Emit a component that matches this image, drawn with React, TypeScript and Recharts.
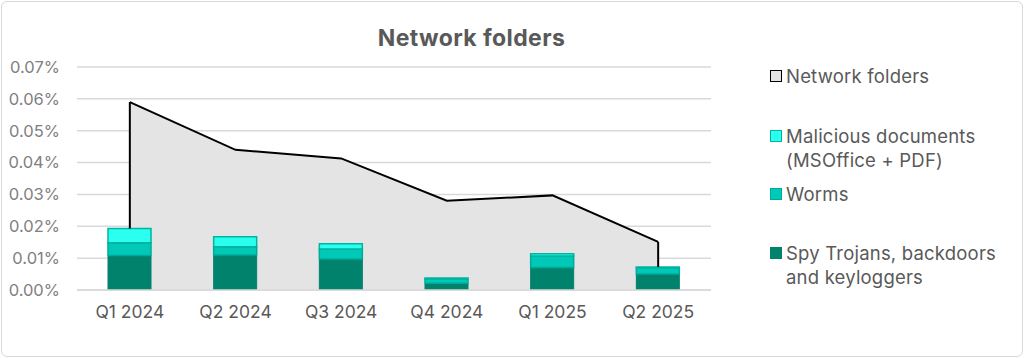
import { ComposedChart, Area, Bar, XAxis, YAxis, CartesianGrid, ReferenceLine } from 'recharts';

const quarters = ['Q1 2024', 'Q2 2024', 'Q3 2024', 'Q4 2024', 'Q1 2025', 'Q2 2025'];
const networkFolders = [0.059, 0.044, 0.0413, 0.028, 0.0297, 0.0151];
const spyTrojans = [0.0108, 0.011, 0.0097, 0.0021, 0.0071, 0.005];
const worms = [0.004, 0.0026, 0.0032, 0.0013, 0.0036, 0.002];
const maliciousDocs = [0.0045, 0.0031, 0.0016, 0.0004, 0.0007, 0.0002];
const yTicks = [0, 0.01, 0.02, 0.03, 0.04, 0.05, 0.06, 0.07];

const data = quarters.map((q, i) => ({
    quarter: q,
    network: networkFolders[i],
    spy: spyTrojans[i],
    worms: worms[i],
    docs: maliciousDocs[i],
}));

const font = 'Inter, "DejaVu Sans", sans-serif';
const textColor = '#595959';

const legendItems = [
    { lines: ['Network folders'], fill: '#E4E4E4', stroke: '#000000', top: 65 },
    { lines: ['Malicious documents', '(MSOffice + PDF)'], fill: '#2BFFF0', stroke: '#00B5A0', top: 125 },
    { lines: ['Worms'], fill: '#00C9B8', stroke: '#00AA98', top: 183 },
    { lines: ['Spy Trojans, backdoors', 'and keyloggers'], fill: '#00826D', stroke: '#00826D', top: 242 },
];

function Legend() {
    return (
        <>
            {legendItems.map((item) => (
                <div key={item.lines[0]} style={{ position: 'absolute', left: 770, top: item.top, display: 'flex', alignItems: 'flex-start' }}>
                    <div style={{ width: 10, height: 10, marginTop: 5, background: item.fill, border: `1.5px solid ${item.stroke}` }} />
                    <div style={{ marginLeft: 4, fontSize: 18.5, lineHeight: '23.5px', color: textColor, fontFamily: font, letterSpacing: 0.2 }}>
                        {item.lines.map((l) => (
                            <div key={l}>{l}</div>
                        ))}
                    </div>
                </div>
            ))}
        </>
    );
}

export default function App() {
    const first = data[0];
    const last = data[data.length - 1];
    return (
        <div style={{ position: 'fixed', left: 0, top: 0, width: 1024, height: 358, background: '#fff' }}>
            <div style={{ position: 'absolute', left: 1, top: 1, width: 1020, height: 354, border: '1px solid #D9D9D9', borderRadius: 6 }} />
            <div style={{ position: 'absolute', left: 0, width: 943, top: 24, textAlign: 'center', fontSize: 23, fontWeight: 700, color: textColor, fontFamily: font, letterSpacing: 0.4 }}>
                Network folders
            </div>
            <ComposedChart
                width={1024}
                height={358}
                data={data}
                margin={{ top: 67, right: 313, bottom: 38, left: 0 }}
                barSize={43}
                style={{ position: 'absolute', left: 0, top: 0 }}
            >
                <CartesianGrid vertical={false} stroke="#D9D9D9" strokeWidth={1.5} />
                <XAxis
                    dataKey="quarter"
                    axisLine={{ stroke: '#D9D9D9', strokeWidth: 1.5 }}
                    tickLine={false}
                    tickMargin={10}
                    tick={{ fontSize: 17.5, fill: textColor, fontFamily: font }}
                />
                <YAxis
                    width={77}
                    domain={[0, 0.07]}
                    ticks={yTicks}
                    axisLine={false}
                    tickLine={false}
                    tickMargin={11}
                    tickFormatter={(v: number) => `${v.toFixed(2)}%`}
                    tick={{ fontSize: 16.5, fill: '#7F7F7F', fontFamily: font }}
                    allowDataOverflow
                />
                <Area
                    type="linear"
                    dataKey="network"
                    fill="#E4E4E4"
                    fillOpacity={1}
                    stroke="#000"
                    strokeWidth={2}
                    isAnimationActive={false}
                />
                <ReferenceLine
                    segment={[
                        { x: first.quarter, y: first.spy + first.worms + first.docs },
                        { x: first.quarter, y: first.network },
                    ]}
                    stroke="#000"
                    strokeWidth={2}
                />
                <ReferenceLine
                    segment={[
                        { x: last.quarter, y: last.spy + last.worms + last.docs },
                        { x: last.quarter, y: last.network },
                    ]}
                    stroke="#000"
                    strokeWidth={2}
                />
                <Bar dataKey="spy" stackId="a" fill="#00826D" stroke="#00826D" strokeWidth={1} isAnimationActive={false} />
                <Bar dataKey="worms" stackId="a" fill="#00C9B8" stroke="#00AA98" strokeWidth={1.5} isAnimationActive={false} />
                <Bar dataKey="docs" stackId="a" fill="#2BFFF0" stroke="#00B5A0" strokeWidth={1.5} isAnimationActive={false} />
            </ComposedChart>
            <Legend />
        </div>
    );
}
